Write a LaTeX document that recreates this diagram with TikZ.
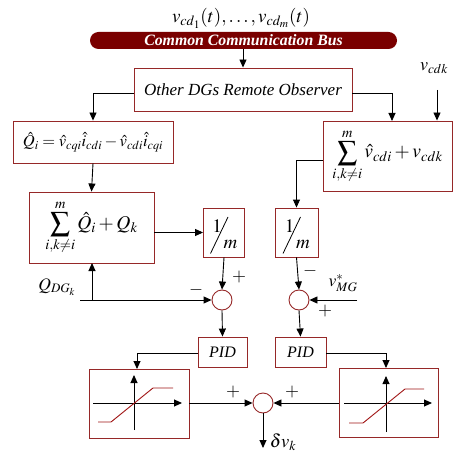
\documentclass[tikz,border=0pt]{standalone}
\usepackage{mathptmx}
\usepackage[no-math]{fontspec}
\setmainfont{Liberation Serif}
\usetikzlibrary{arrows.meta,calc}
\definecolor{boxred}{RGB}{150,40,40}
\definecolor{busred}{RGB}{122,0,0}
\definecolor{curvered}{RGB}{160,20,20}
\tikzset{
  blk/.style={draw=boxred, line width=0.9pt, fill=white, inner sep=0pt},
  sumc/.style={circle, draw=boxred, line width=0.9pt, minimum size=20pt, inner sep=0pt},
  conn/.style={line width=0.9pt, -{Triangle[length=8pt,width=7pt]}},
  sgn/.style={font=\fontsize{18}{18}\selectfont, inner sep=0pt},
  mtxt/.style={font=\fontsize{16}{18}\selectfont, inner sep=0pt},
}
\begin{document}
\begin{tikzpicture}[x=1pt,y=-1pt]
\useasboundingbox (0,0) rectangle (453,454);
% top label and bus
\node[mtxt, font=\fontsize{19}{20}\selectfont] (toplbl) at (241,18) {$v_{cd_1}(t),\ldots,v_{cd_m}(t)$};
\node[fill=busred, rounded corners=8.5pt, minimum width=307pt, minimum height=17pt, inner sep=0pt,
  text=white, font=\fontsize{15.8}{16}\selectfont\bfseries\itshape] (bus) at (243.5,40.5) {Common Communication Bus};
% observer
\node[blk, minimum width=218pt, minimum height=43pt, font=\fontsize{17}{17}\selectfont\itshape] (obs) at (243,89.5) {Other DGs Remote Observer};
% Qhat box
\node[blk, minimum width=160pt, minimum height=42pt, mtxt, font=\fontsize{16.5}{18}\selectfont] (qhat) at (93,142) {$\hat{Q}_i=\hat{v}_{cqi}\hat{i}_{cdi}-\hat{v}_{cdi}\hat{i}_{cqi}$};
% sum v box
\node[blk, minimum width=129pt, minimum height=70pt, mtxt, font=\fontsize{19.5}{20}\selectfont] (sumv) at (387.5,156) {$\displaystyle\sum_{i,k\neq i}^{m}\hat{v}_{cdi}+v_{cdk}$};
% sum Q box
\node[blk, minimum width=125pt, minimum height=71pt, mtxt, font=\fontsize{19.5}{20}\selectfont] (sumq) at (91.5,227.5) {$\displaystyle\sum_{i,k\neq i}^{m}\hat{Q}_i+Q_k$};
% 1/m boxes
\node[blk, minimum width=41pt, minimum height=49pt] (m1) at (224,232.5) {};
\node[blk, minimum width=43pt, minimum height=49pt] (m2) at (296.5,232.5) {};
\foreach \b in {m1,m2}{
  \node[mtxt, font=\fontsize{19}{19}\selectfont] (\b one) at ($(\b.center)+(-7,-6.5)$) {$1$};
  \node[mtxt, font=\fontsize{19}{19}\selectfont] (\b em) at ($(\b.center)+(6.5,12)$) {$m$};
  \draw[line width=0.8pt] ($(\b.center)+(-13.5,21)$) -- ($(\b.center)+(4,-15.5)$);
}
% summing junctions
\node[sumc] (c1) at (222,300) {};
\node[sumc] (c2) at (299,300) {};
\node[sumc] (c3) at (263,403) {};
% PID
\node[blk, minimum width=49pt, minimum height=30pt, font=\fontsize{16}{16}\selectfont\itshape] (pid1) at (222.5,352) {PID};
\node[blk, minimum width=51pt, minimum height=30pt, font=\fontsize{16}{16}\selectfont\itshape] (pid2) at (300.5,352) {PID};
% saturation blocks
\node[blk, minimum width=100pt, minimum height=69pt] (sat1) at (139,403.5) {};
\node[blk, minimum width=99pt, minimum height=69pt] (sat2) at (388.5,402.5) {};
\draw[conn] (93,403) -- (182,403);
\draw[conn] (134,430) -- (134,375);
\draw[curvered, line width=0.9pt] (98,422) -- (111,422) -- (153,388) -- (173,388);
\draw[conn] (344,403) -- (432,403);
\draw[conn] (386,432) -- (386,376);
\draw[curvered, line width=0.9pt] (349,423) -- (363,423) -- (405,389) -- (424,389);
% coordinates for free ends
\coordinate (vcdkstart) at (437,90);
\coordinate (qdgstart) at (80,300);
\coordinate (vmgstart) at (357,300);
\coordinate (dvend) at (263,448);
% labels
\node[mtxt, font=\fontsize{18}{18}\selectfont] (vcdklbl) at (434,68) {$v_{cdk}$};
\node[mtxt, font=\fontsize{17.5}{18}\selectfont] (qdglbl) at (57,287) {$Q_{DG_k}$};
\node[mtxt, font=\fontsize{17.5}{18}\selectfont] (vmglbl) at (343,283) {$v_{MG}^{*}$};
\node[mtxt, font=\fontsize{18.5}{18}\selectfont] (dvlbl) at (283,442) {$\delta v_k$};
\node[sgn] (s1) at (239,277) {$+$};
\node[sgn] (s2) at (196,290) {$-$};
\node[sgn] (s3) at (310,271) {$-$};
\node[sgn] (s4) at (325,311) {$+$};
\node[sgn] (s5) at (233,392) {$+$};
\node[sgn] (s6) at (292,392) {$+$};
% connectors
\draw[conn] (bus.south -| obs.north) -- (obs.north);
\draw[conn] ([yshift=-3.5pt]obs.west) -| (qhat.north);
\draw[conn] ([yshift=-3.5pt]obs.east) -| (392,121);
\draw[conn] (vcdkstart) -- (vcdkstart |- sumv.north);
\draw[conn] (qhat.south) -- (sumq.north);
\draw[conn] ([yshift=-4pt]sumv.west) -| (m2.north);
\draw[conn] (sumq.east |- m1.west) -- (m1.west);
\draw[conn] (m1.south) -- (c1.north);
\draw[conn] (m2.south) -- (c2.north);
\draw[conn] (qdgstart) -- (c1.west);
\draw[conn] (92,300) -- (92,263);
\draw[conn] (vmgstart) -- (c2.east);
\draw[conn] (c1.south) -- (pid1.north);
\draw[conn] (c2.south) -- (pid2.north);
\draw[conn] ([yshift=-1pt]pid1.west) -| (137,369);
\draw[conn] ([yshift=-1pt]pid2.east) -| (386,368);
\draw[conn] (sat1.east |- c3.west) -- (c3.west);
\draw[conn] (sat2.west |- c3.east) -- (c3.east);
\draw[conn] (c3.south) -- (dvend);
\end{tikzpicture}
\end{document}
